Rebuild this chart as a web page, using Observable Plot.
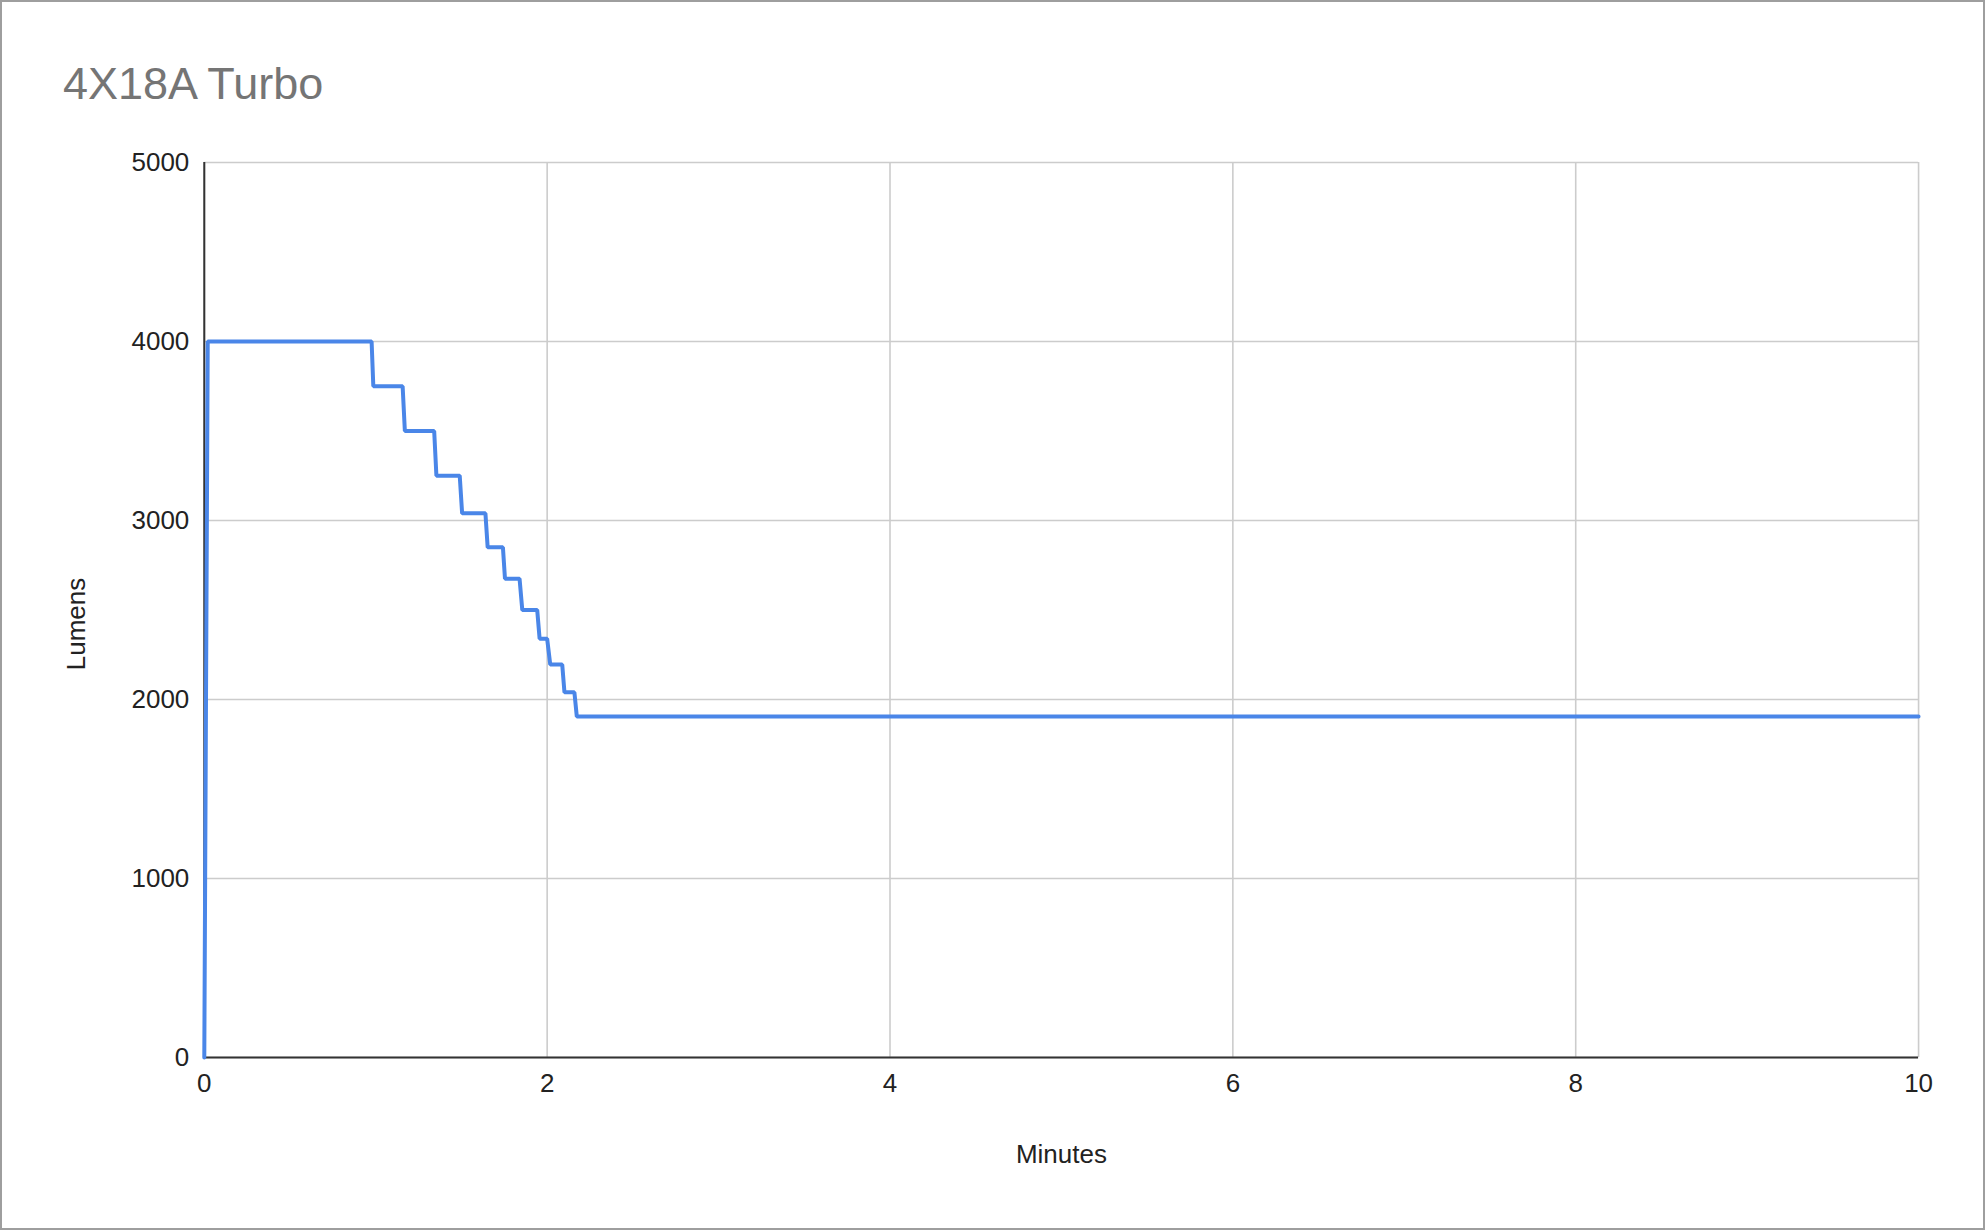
<!DOCTYPE html>
<html>
<head>
<meta charset="utf-8">
<script src="https://cdn.jsdelivr.net/npm/d3@7"></script>
<script src="https://cdn.jsdelivr.net/npm/@observablehq/plot@0.6"></script>
<style>
  html, body { margin: 0; padding: 0; background: #fff; }
  #frame {
    position: relative; width: 1985px; height: 1230px; box-sizing: border-box;
    border: 2px solid #9e9e9e; background: #fff; overflow: hidden;
    font-family: "Liberation Sans", Arial, sans-serif;
  }
  #title {
    position: absolute; left: 61px; top: 59px; font-size: 45px; color: #757575;
    line-height: 1; white-space: nowrap;
  }
  #chart { position: absolute; left: -2px; top: 118px; }
</style>
</head>
<body>
<div id="frame">
  <div id="title">4X18A Turbo</div>
  <div id="chart"></div>
</div>
<script>
const minutes = [0, 0.02, 0.976, 0.986, 1.157, 1.170, 1.341, 1.354, 1.490, 1.504, 1.640, 1.653, 1.742, 1.754, 1.839, 1.855, 1.942, 1.956, 2.000, 2.018, 2.088, 2.101, 2.159, 2.173, 10];
const lumens  = [0, 4000, 4000, 3750, 3750, 3500, 3500, 3250, 3250, 3040, 3040, 2850, 2850, 2675, 2675, 2500, 2500, 2340, 2340, 2195, 2195, 2040, 2040, 1905, 1905];
const xTicks = [0, 2, 4, 6, 8, 10];
const yTicks = [0, 1000, 2000, 3000, 4000, 5000];
const xLabel = "Minutes";
const yLabel = "Lumens";

const data = minutes.map((m, i) => ({minute: m, lumen: lumens[i]}));
const font = "'Liberation Sans', Arial, sans-serif";

const chart = Plot.plot({
  width: 1985,
  height: 1100,
  marginLeft: 204,
  marginRight: 65,
  marginTop: 42,
  marginBottom: 162,
  style: {fontFamily: font, fontSize: "26px", color: "#222", background: "transparent"},
  x: {domain: [0, 10], ticks: xTicks},
  y: {domain: [0, 5000], ticks: yTicks},
  marks: [
    Plot.gridX(xTicks, {stroke: "#cccccc", strokeOpacity: 1, strokeWidth: 1.6}),
    Plot.gridY(yTicks, {stroke: "#cccccc", strokeOpacity: 1, strokeWidth: 1.6}),
    Plot.axisX(xTicks, {tickSize: 0, tickPadding: 16, fontSize: 26, fill: "#222",
      tickFormat: d => String(d), label: null}),
    Plot.axisY(yTicks, {tickSize: 0, tickPadding: 15, fontSize: 26, fill: "#222",
      tickFormat: d => String(d), label: null}),
    Plot.text([xLabel], {text: d => d, frameAnchor: "bottom", lineAnchor: "bottom", dy: 106,
      fontSize: 26, fill: "#222"}),
    Plot.text([yLabel], {text: d => d, frameAnchor: "left", textAnchor: "middle", lineAnchor: "bottom", rotate: -90,
      dx: -119, dy: 14, fontSize: 26, fill: "#222"}),
    Plot.ruleY([0], {stroke: "#333", strokeWidth: 2}),
    Plot.ruleX([0], {stroke: "#333", strokeWidth: 2}),
    Plot.line(data, {x: "minute", y: "lumen", stroke: "#4a86e8", strokeWidth: 4, strokeLinejoin: "miter"})
  ]
});
document.getElementById("chart").appendChild(chart);
</script>
</body>
</html>
